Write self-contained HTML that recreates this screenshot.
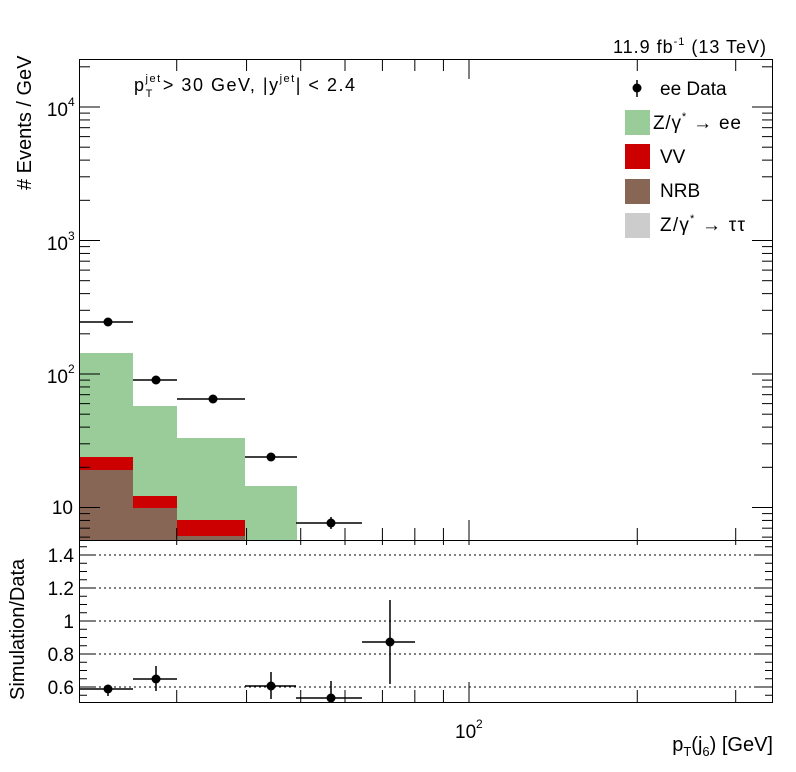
<!DOCTYPE html>
<html><head><meta charset="utf-8"><style>
body{margin:0;background:#fff;}
svg{display:block;font-family:"Liberation Sans",Arial,sans-serif;}
</style></head><body>
<svg id="s" width="796" height="772" xmlns="http://www.w3.org/2000/svg">
<rect width="796" height="772" fill="#fff"/>
<rect x="79" y="353" width="54" height="187" fill="#99cc99"/>
<rect x="133" y="406" width="44" height="134" fill="#99cc99"/>
<rect x="177" y="438" width="68" height="102" fill="#99cc99"/>
<rect x="245" y="486" width="52" height="54" fill="#99cc99"/>
<rect x="79" y="457" width="54" height="83" fill="#cc0000"/>
<rect x="133" y="496" width="44" height="44" fill="#cc0000"/>
<rect x="177" y="520" width="68" height="20" fill="#cc0000"/>
<rect x="79" y="470" width="54" height="70" fill="#886655"/>
<rect x="133" y="508" width="44" height="32" fill="#886655"/>
<rect x="177" y="536" width="68" height="4" fill="#886655"/>
<g id="ticks" stroke="#000" stroke-width="1"></g>
<rect x="79.5" y="59.5" width="693" height="481" fill="none" stroke="#000"/>
<rect x="79.5" y="540.5" width="693" height="162" fill="none" stroke="#000"/>
<g stroke="#000" stroke-width="1.5">
<line x1="79" y1="322" x2="133" y2="322"/>
<line x1="133" y1="380" x2="177" y2="380"/>
<line x1="177" y1="399" x2="245" y2="399"/>
<line x1="245" y1="457" x2="297" y2="457"/>
<line x1="296" y1="523" x2="362" y2="523"/><line x1="331" y1="517" x2="331" y2="529"/>
</g>
<g fill="#000">
<circle cx="108" cy="322" r="4.5"/><circle cx="156" cy="380" r="4.5"/><circle cx="213" cy="399" r="4.5"/><circle cx="271" cy="457" r="4.5"/><circle cx="331" cy="523" r="4.5"/>
</g>
<g stroke="#000" stroke-width="1.5">
<line x1="79" y1="689" x2="133" y2="689"/><line x1="108" y1="685" x2="108" y2="696"/>
<line x1="133" y1="679" x2="177" y2="679"/><line x1="156" y1="666" x2="156" y2="691"/>
<line x1="245" y1="686" x2="296" y2="686"/><line x1="271" y1="672" x2="271" y2="699"/>
<line x1="296" y1="698" x2="362" y2="698"/><line x1="331" y1="681" x2="331" y2="702"/>
<line x1="362" y1="642" x2="415" y2="642"/><line x1="390" y1="600" x2="390" y2="684"/>
</g>
<g fill="#000">
<circle cx="108" cy="689" r="4.5"/><circle cx="156" cy="679" r="4.5"/><circle cx="271" cy="686" r="4.5"/><circle cx="331" cy="698" r="4.5"/><circle cx="390" cy="642" r="4.5"/>
</g>
<g font-size="19" fill="#000">
<text x="68" y="116" text-anchor="end">10</text><text x="68" y="106" font-size="12">4</text>
<text x="68" y="250" text-anchor="end">10</text><text x="68" y="240" font-size="12">3</text>
<text x="68" y="383" text-anchor="end">10</text><text x="68" y="373" font-size="12">2</text>
<text x="73" y="514" text-anchor="end">10</text>
<text x="74" y="562" text-anchor="end">1.4</text>
<text x="74" y="595" text-anchor="end">1.2</text>
<text x="74" y="628" text-anchor="end">1</text>
<text x="74" y="661" text-anchor="end">0.8</text>
<text x="74" y="694" text-anchor="end">0.6</text>
<text x="455" y="738">10</text><text x="476" y="728" font-size="12">2</text>
</g>
<g font-size="20" fill="#000">
<text x="773" y="751" text-anchor="end">p<tspan font-size="13" dy="5">T</tspan><tspan dy="-5">(j</tspan><tspan font-size="13" dy="5">6</tspan><tspan dy="-5">) [GeV]</tspan></text>
<text transform="translate(31,190) rotate(-90)"># Events / GeV</text>
<text transform="translate(24,700) rotate(-90)">Simulation/Data</text>
</g>
<g font-size="18" fill="#000">
<text x="613" y="53" textLength="153" lengthAdjust="spacing">11.9 fb<tspan font-size="11" dy="-8">-1</tspan><tspan dy="8"> (13 TeV)</tspan></text>
<text x="134" y="91" textLength="221" lengthAdjust="spacing">p<tspan font-size="11" dy="-9">jet</tspan><tspan font-size="11" dx="-16" dy="15">T</tspan><tspan dy="-6" dx="9">&gt; 30 GeV,  |y</tspan><tspan font-size="11" dy="-9">jet</tspan><tspan dy="9">| &lt; 2.4</tspan></text>
</g>
<g font-size="19" fill="#000">
<text x="660" y="95">ee Data</text>
<text x="653" y="129" textLength="88" lengthAdjust="spacing">Z/γ<tspan font-size="11" dy="-9">*</tspan><tspan dy="9"> → ee</tspan></text>
<text x="660" y="163">VV</text>
<text x="660" y="197">NRB</text>
<text x="660" y="231" textLength="85" lengthAdjust="spacing">Z/γ<tspan font-size="11" dy="-9">*</tspan><tspan dy="9"> → ττ</tspan></text>
</g>
<line x1="637" y1="80" x2="637" y2="97" stroke="#000" stroke-width="1.5"/>
<circle cx="637" cy="88" r="4.5" fill="#000"/>
<rect x="625" y="110" width="25" height="25" fill="#99cc99"/>
<rect x="625" y="144" width="25" height="25" fill="#cc0000"/>
<rect x="625" y="179" width="25" height="25" fill="#886655"/>
<rect x="625" y="213" width="25" height="25" fill="#cccccc"/>
</svg>
<script>
var g=document.getElementById('ticks'),h='';
function L(a,b,c,d,e){h+='<line x1="'+a+'" y1="'+b+'" x2="'+c+'" y2="'+d+'"'+(e||'')+'/>';}
function yOf(v){return 641-Math.log10(v)*133.5;}
for(var d=0;d<5;d++)for(var k=1;k<10;k++){var y=yOf(k*Math.pow(10,d));if(y<60||y>539)continue;var l=k==1?21:11;L(79,y,79+l,y);L(773,y,773-l,y);}
function xOf(v){return 469+Math.log10(v/100)*559;}
var xs=[30,40,50,60,70,80,90,100,200,300];
xs.forEach(function(v){var x=xOf(v),l=v==100?20:12;L(x,540,x,540-l);L(x,59,x,59+l);L(x,702,x,702-l);L(x,540,x,545);});
function rOf(v){return 621-(v-1)*165;}
for(var i=0;i<=18;i++){var v=0.55+i*0.05;var y=rOf(v);if(y<541||y>701)continue;var maj=Math.abs((v*10)%2)<0.01||Math.abs((v*10)%2-2)<0.01;var l=maj?17:8;L(79,y,79+l,y);L(773,y,773-l,y);}
[0.6,0.8,1.0,1.2,1.4].forEach(function(v){var y=rOf(v);L(79,y,773,y,' stroke-dasharray="2,3"');});
g.innerHTML=h;
</script>
</body></html>
